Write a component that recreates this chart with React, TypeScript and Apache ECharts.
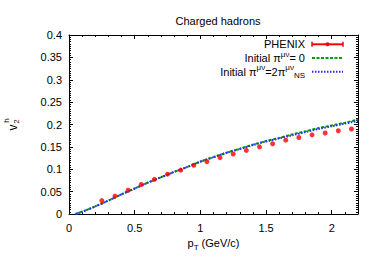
import React, { useEffect, useRef } from 'react';
import * as echarts from 'echarts';

const FONT = '"Liberation Sans", Arial, Helvetica, sans-serif';

const titleText = 'Charged hadrons';
const seriesNames = ['PHENIX', 'Initial π^μν = 0', 'Initial π^μν = 2π^μν_NS'];

// PHENIX charged hadron v2 data
const ptPhenix = [0.25, 0.35, 0.45, 0.55, 0.65, 0.75, 0.85, 0.95, 1.05, 1.15, 1.25, 1.35, 1.45, 1.55, 1.65, 1.75, 1.85, 1.95, 2.05, 2.15];
const v2Phenix = [0.030, 0.040, 0.053, 0.066, 0.0775, 0.089, 0.098, 0.109, 0.117, 0.126, 0.134, 0.142, 0.150, 0.157, 0.165, 0.171, 0.177, 0.181, 0.186, 0.190];

// hydro curves
const ptCurve = [0.05, 0.1, 0.2, 0.3, 0.4, 0.5, 0.6, 0.7, 0.8, 0.9, 1.0, 1.1, 1.2, 1.3, 1.4, 1.5, 1.6, 1.7, 1.8, 1.9, 2.0, 2.1, 2.2];
const v2Initial0 = [0, 0.005, 0.017, 0.030, 0.044, 0.057, 0.070, 0.082, 0.094, 0.105, 0.117, 0.127, 0.137, 0.146, 0.155, 0.163, 0.170, 0.178, 0.185, 0.192, 0.198, 0.204, 0.211];
const v2Initial2NS = [0, 0.005, 0.017, 0.030, 0.044, 0.057, 0.070, 0.082, 0.094, 0.105, 0.117, 0.127, 0.137, 0.145, 0.154, 0.162, 0.169, 0.176, 0.183, 0.190, 0.196, 0.202, 0.208];

const xMin = 0, xMax = 2.2, xInterval = 0.5;
const yMin = 0, yMax = 0.4, yInterval = 0.05;

const RED = '#ff0000';
const GREEN = '#00a000';
const BLUE = '#2a2aff';

const richBase = {
  n: { fontSize: 11, fontFamily: FONT, color: '#000' },
  sup: { fontSize: 8, fontFamily: FONT, color: '#000', padding: [0, 0, 8, 0] },
  sub: { fontSize: 8, fontFamily: FONT, color: '#000', padding: [8, 0, 0, 0] },
};

function axisCommon(showLabel: boolean) {
  return {
    axisLine: { show: true, onZero: false, lineStyle: { color: '#000', width: 1 } },
    axisTick: { show: true, inside: true, length: 4, lineStyle: { color: '#000', width: 1 } },
    splitLine: { show: false },
    axisLabel: showLabel
      ? { show: true, color: '#000', fontSize: 11, fontFamily: FONT, showMaxLabel: false }
      : { show: false },
  };
}

export default function App() {
  const ref = useRef<HTMLDivElement>(null);
  useEffect(() => {
    const chart = echarts.init(ref.current!, null, { renderer: 'svg' });
    const legendX1 = 312, legendX2 = 343, textRight = 305;
    const rows = [44.3, 58, 71.7];
    const option: any = {
      animation: false,
      textStyle: { fontFamily: FONT, color: '#000' },
      title: {
        text: titleText,
        left: 213,
        top: 10,
        textAlign: 'center',
        textStyle: { fontSize: 11, fontWeight: 'normal', color: '#000', fontFamily: FONT },
      },
      grid: { left: 69, right: 16, top: 35, bottom: 48 },
      xAxis: [
        {
          type: 'value', min: xMin, max: xMax, interval: xInterval, position: 'bottom',
          ...axisCommon(true),
          minorTick: { show: true, splitNumber: 5, length: 2, lineStyle: { color: '#000' } },
          name: '{n|p}{sub|T}{n| (GeV/c)}',
          nameLocation: 'middle',
          nameGap: 19,
          nameTextStyle: { rich: richBase },
        },
        {
          type: 'value', min: xMin, max: xMax, interval: xInterval, position: 'top',
          ...axisCommon(false),
          minorTick: { show: true, splitNumber: 5, length: 2, lineStyle: { color: '#000' } },
        },
      ],
      yAxis: [
        {
          type: 'value', min: yMin, max: yMax, interval: yInterval, position: 'left',
          ...axisCommon(true),
          axisLabel: { show: true, color: '#000', fontSize: 11, fontFamily: FONT, margin: 7 },
          minorTick: { show: true, splitNumber: 10, length: 2, lineStyle: { color: '#000' } },
        },
        {
          type: 'value', min: yMin, max: yMax, interval: yInterval, position: 'right',
          ...axisCommon(false),
          minorTick: { show: true, splitNumber: 10, length: 2, lineStyle: { color: '#000' } },
        },
      ],
      series: [
        {
          name: seriesNames[1],
          type: 'line',
          xAxisIndex: 0, yAxisIndex: 0,
          data: ptCurve.map((x, i) => [x, v2Initial0[i]]),
          showSymbol: false,
          smooth: 0.3,
          lineStyle: { color: GREEN, width: 2, type: [3, 1.5] },
          z: 2,
        },
        {
          name: seriesNames[2],
          type: 'line',
          xAxisIndex: 0, yAxisIndex: 0,
          data: ptCurve.map((x, i) => [x, v2Initial2NS[i]]),
          showSymbol: false,
          smooth: 0.3,
          lineStyle: { color: BLUE, width: 2, type: [1.5, 1.5] },
          z: 3,
        },
        {
          name: seriesNames[0],
          type: 'scatter',
          xAxisIndex: 0, yAxisIndex: 0,
          data: ptPhenix.map((x, i) => [x, v2Phenix[i]]),
          symbol: 'circle',
          symbolSize: 5,
          itemStyle: { color: RED },
          z: 4,
        },
      ],
      graphic: [
        // legend texts
        {
          type: 'text', x: textRight, y: rows[0],
          style: { text: '{n|PHENIX}', rich: richBase, align: 'right', verticalAlign: 'middle' },
        },
        {
          type: 'text', x: textRight, y: rows[1],
          style: { text: '{n|Initial π}{sup|μν}{n|= 0}', rich: richBase, align: 'right', verticalAlign: 'middle' },
        },
        {
          type: 'text', x: textRight, y: rows[2],
          style: { text: '{n|Initial π}{sup|μν}{n|=2π}{sup|μν}{sub|NS}', rich: richBase, align: 'right', verticalAlign: 'middle' },
        },
        // legend samples
        { type: 'line', shape: { x1: legendX1, y1: rows[0], x2: legendX2, y2: rows[0] }, style: { stroke: RED, lineWidth: 2 } },
        { type: 'line', shape: { x1: legendX1, y1: rows[0] - 2.5, x2: legendX1, y2: rows[0] + 2.5 }, style: { stroke: RED, lineWidth: 1.5 } },
        { type: 'line', shape: { x1: legendX2, y1: rows[0] - 2.5, x2: legendX2, y2: rows[0] + 2.5 }, style: { stroke: RED, lineWidth: 1.5 } },
        { type: 'circle', shape: { cx: (legendX1 + legendX2) / 2, cy: rows[0], r: 2 }, style: { fill: RED } },
        { type: 'line', shape: { x1: legendX1, y1: rows[1], x2: legendX2, y2: rows[1] }, style: { stroke: GREEN, lineWidth: 2, lineDash: [3, 1.5] } },
        { type: 'line', shape: { x1: legendX1, y1: rows[2], x2: legendX2, y2: rows[2] }, style: { stroke: BLUE, lineWidth: 2, lineDash: [1.5, 1.5] } },
        // y axis name v_2^h, rotated
        {
          type: 'group', x: 13, y: 124, rotation: Math.PI / 2,
          children: [
            { type: 'text', x: -3.5, y: 0, style: { text: 'v', fontSize: 12, fontFamily: FONT, fill: '#000', align: 'center', verticalAlign: 'middle' } },
            { type: 'text', x: 2.5, y: 3, style: { text: '2', fontSize: 8, fontFamily: FONT, fill: '#000', align: 'center', verticalAlign: 'middle' } },
            { type: 'text', x: 3.5, y: -6.5, style: { text: 'h', fontSize: 8, fontFamily: FONT, fill: '#000', align: 'center', verticalAlign: 'middle' } },
          ],
        },
      ],
    };
    chart.setOption(option);
    return () => chart.dispose();
  }, []);
  return <div ref={ref} style={{ position: 'absolute', left: 0, top: 0, width: 374, height: 262 }} />;
}
